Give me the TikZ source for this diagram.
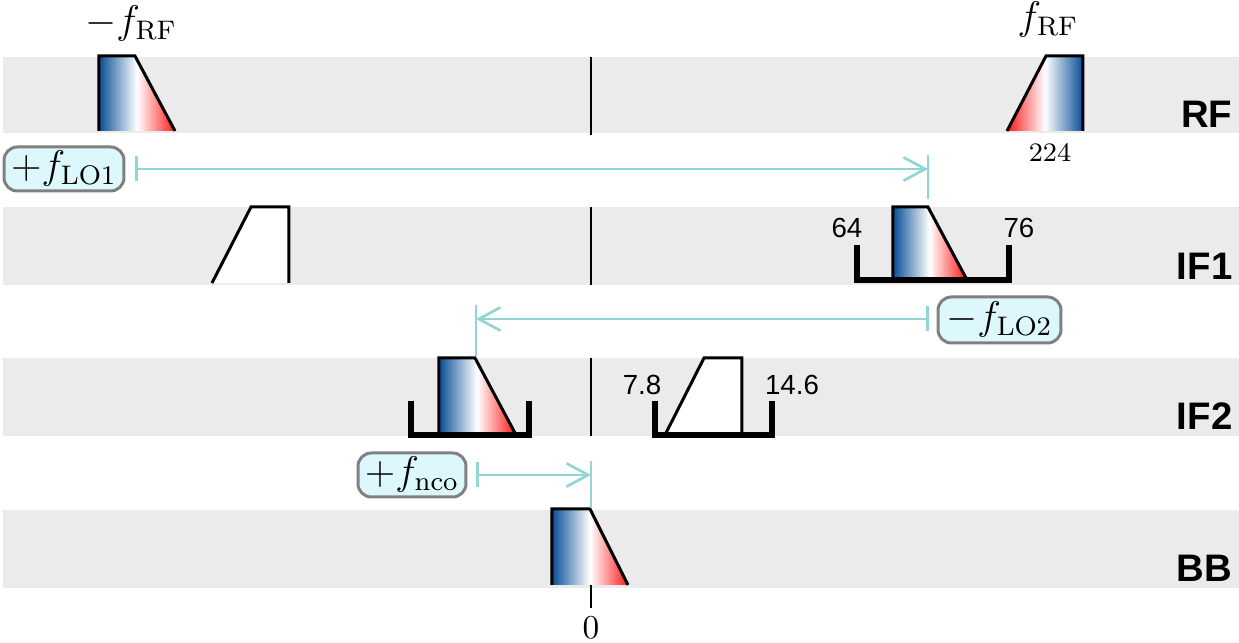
\documentclass[tikz,border=0pt]{standalone}
\usepackage{fontspec}
\setsansfont{Liberation Sans}
\usetikzlibrary{arrows.meta}
\definecolor{bandgray}{HTML}{EBEBEB}
\definecolor{cyanline}{HTML}{93D5D5}
\definecolor{lofill}{HTML}{DDF8FC}
\definecolor{loedge}{HTML}{808080}
\definecolor{sigblue}{RGB}{8,78,150}
\definecolor{sigred}{RGB}{255,25,25}
\pgfdeclarehorizontalshading{bwr}{100bp}{color(0bp)=(sigblue); color(25bp)=(sigblue); color(50bp)=(white); color(75bp)=(sigred); color(100bp)=(sigred)}
\pgfdeclarehorizontalshading{rwb}{100bp}{color(0bp)=(sigred); color(25bp)=(sigred); color(50bp)=(white); color(75bp)=(sigblue); color(100bp)=(sigblue)}
\tikzset{
  band/.style={fill=bandgray, draw=none},
  trapline/.style={line width=0.9pt, line join=miter, black},
  bracket/.style={line width=1.6pt, line join=miter, black},
  zeroline/.style={line width=0.6pt, black},
  lobox/.style={draw=loedge, fill=lofill, line width=0.9pt, rounded corners=4pt, inner sep=0pt, font=\fontsize{11.5}{13}\selectfont},
  cyanarrow/.style={draw=cyanline, line width=0.8pt, {Bar[width=7.5pt]}-{Straight Barb[length=6.5pt,width=7pt]}},
  cyanmark/.style={draw=cyanline, line width=0.8pt},
  bandlabel/.style={font=\sffamily\bfseries\fontsize{11.5}{13}\selectfont, anchor=base east, inner sep=0pt},
  edgelabel/.style={font=\sffamily\fontsize{8.3}{10}\selectfont, anchor=base, inner sep=0pt},
  freqlabel/.style={font=\fontsize{11.5}{13}\selectfont, anchor=base, inner sep=0pt}
}
\begin{document}
\begin{tikzpicture}[x=0.3pt,y=-0.3pt]
\useasboundingbox (0,0) rectangle (1239,643);
% bands
\fill[band] (3,57) rectangle (1239,133);
\fill[band] (3,207) rectangle (1239,285);
\fill[band] (3,358) rectangle (1239,436);
\fill[band] (3,510) rectangle (1239,588);
% zero lines
\draw[zeroline] (591,57) -- (591,135);
\draw[zeroline] (591,207) -- (591,285);
\draw[zeroline] (591,358) -- (591,436);
\draw[zeroline] (591,510) -- (591,608);
% RF
\shade[shading=bwr] (99,131) -- (99,56) -- (135,56) -- (175,131) -- cycle;
\draw[trapline] (99,131) -- (99,56) -- (135,56) -- (175,131);
\shade[shading=rwb] (1007,131) -- (1046,56) -- (1083,56) -- (1083,131) -- cycle;
\draw[trapline] (1007,131) -- (1046,56) -- (1083,56) -- (1083,131);
\node[freqlabel] (mfrf) at (131,34) {$-f_{\mathrm{RF}}$};
\node[freqlabel] (pfrf) at (1048,30) {$f_{\mathrm{RF}}$};
\node[font=\footnotesize, anchor=base, inner sep=0pt] (n224) at (1050,162) {224};
% IF1
\fill[white] (212,283) -- (251,207) -- (289,207) -- (289,283) -- cycle;
\draw[trapline] (212,283) -- (251,207) -- (289,207) -- (289,283);
\shade[shading=bwr] (893,278) -- (893,207) -- (928,207) -- (966,278) -- cycle;
\draw[trapline] (893,278) -- (893,207) -- (928,207) -- (966,278);
\draw[bracket] (857,245) -- (857,280) -- (1009,280) -- (1009,245);
\node[edgelabel] (l64) at (847,238) {64};
\node[edgelabel] (l76) at (1019,238) {76};
% IF2
\shade[shading=bwr] (439,433) -- (439,358) -- (475,358) -- (515,433) -- cycle;
\draw[trapline] (439,433) -- (439,358) -- (475,358) -- (515,433);
\draw[bracket] (411,401) -- (411,435) -- (529,435) -- (529,401);
\fill[white] (666,433) -- (704,358) -- (742,358) -- (742,433) -- cycle;
\draw[trapline] (666,433) -- (704,358) -- (742,358) -- (742,433);
\draw[bracket] (655,401) -- (655,435) -- (772,435) -- (772,401);
\node[edgelabel] (l78) at (642,395) {7.8};
\node[edgelabel] (l146) at (792,395) {14.6};
% BB
\shade[shading=bwr] (552,585) -- (552,509) -- (590,509) -- (628,585) -- cycle;
\draw[trapline] (552,585) -- (552,509) -- (590,509) -- (628,585);
\node[font=\normalsize, anchor=base, inner sep=0pt] (zero) at (591,639) {$0$};
% band labels
\node[bandlabel] (lrf) at (1233,128) {RF};
\node[bandlabel] (lif1) at (1233,280) {IF1};
\node[bandlabel] (lif2) at (1233,430) {IF2};
\node[bandlabel] (lbb) at (1233,582) {BB};
% LO boxes
\node[lobox, minimum width=36pt, minimum height=13.2pt] (lo1) at (64,169) {$+f_{\mathrm{LO1}}$};
\node[lobox, minimum width=36.9pt, minimum height=13.8pt] (lo2) at (999.5,320) {$-f_{\mathrm{LO2}}$};
\node[lobox, minimum width=32.4pt, minimum height=13.2pt] (nco) at (412,475) {$+f_{\mathrm{nco}}$};
% arrows
\coordinate (a1s) at (135,169);
\coordinate (a1e) at (928,169);
\coordinate (a1t) at (928,155);
\coordinate (a1b) at (928,199);
\draw[cyanmark] (a1t) -- (a1b);
\draw[cyanarrow] (a1s) -- (a1e);
\coordinate (a2s) at (929,319);
\coordinate (a2e) at (476,319);
\coordinate (a2t) at (476,305);
\coordinate (a2b) at (476,356);
\draw[cyanmark] (a2t) -- (a2b);
\draw[cyanarrow] (a2s) -- (a2e);
\coordinate (a3s) at (476,475);
\coordinate (a3e) at (591,475);
\coordinate (a3t) at (591,461);
\coordinate (a3b) at (591,508);
\draw[cyanmark] (a3t) -- (a3b);
\draw[cyanarrow] (a3s) -- (a3e);
\end{tikzpicture}
\end{document}
